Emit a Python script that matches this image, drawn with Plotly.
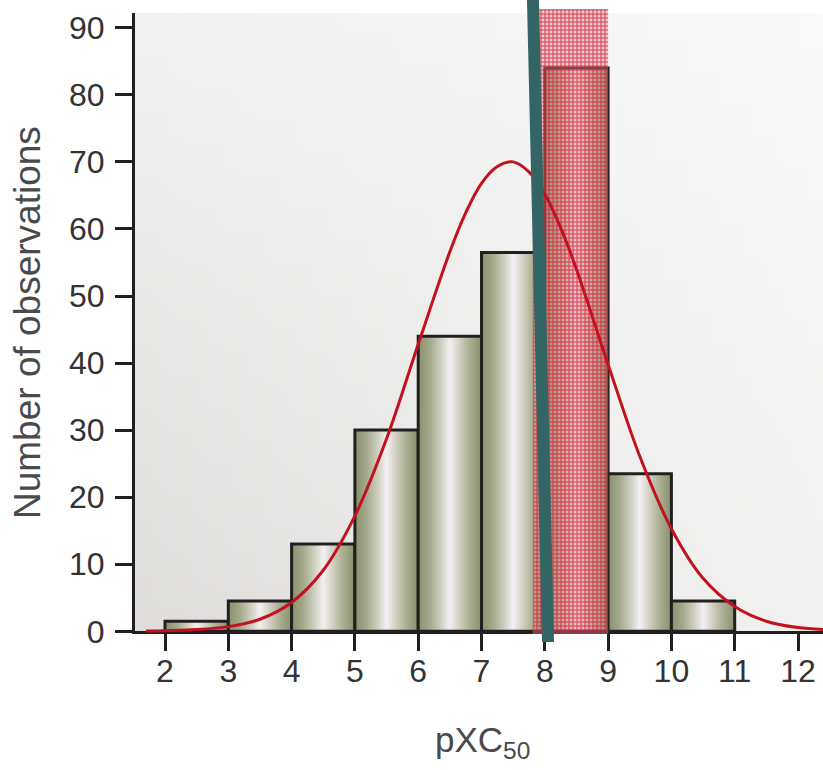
import plotly.graph_objects as go

# Histogram of pXC50 values: bin edges and counts per bin
bin_edges = [2, 3, 4, 5, 6, 7, 8, 9, 10, 11]
counts = [1.5, 4.5, 13, 30, 44, 56.5, 84, 23.5, 4.5]

# Fitted normal curve
curve_x = [1.7, 2.0, 2.5, 3.0, 3.5, 4.0, 4.5, 5.0, 5.5, 6.0, 6.5, 6.75, 7.0, 7.25, 7.5,
           7.75, 8.0, 8.25, 8.5, 9.0, 9.5, 10.0, 10.5, 11.0, 11.5, 12.0, 12.4]
curve_y = [0.05, 0.1, 0.25, 0.7, 1.8, 4.3, 9.1, 17.2, 28.7, 42.8, 56.6, 62.4, 66.8, 69.3, 70.0,
           68.5, 65.2, 60.2, 54.0, 39.8, 26.1, 15.3, 7.9, 3.7, 1.5, 0.55, 0.25]

# Threshold line and highlighted range
threshold_x = [7.806, 8.058]
threshold_y = [97.0, -4.5]
highlight_x = [7.81, 9.0]
highlight_y = [-0.4, 92.8]

x_ticks = list(range(2, 13))
y_ticks = list(range(0, 100, 10))

W, H = 823, 770
# plot frame in pixels
px_left, px_right = 135, 823
px_top, px_zero = 13, 631.3
x_range = [1.526, 12.395]
y_range = [0, 92.2]
y_scale = (px_zero - px_top) / (y_range[1] - y_range[0])
# overlay subplot spans from the very top to just below the x axis
ov_top, ov_bottom = 0, 642
y2_range = [-(ov_bottom - px_zero) / y_scale, px_zero / y_scale]

INK = '#231f20'
tick_font = dict(family='Liberation Sans Narrow, Liberation Sans, Arial, sans-serif', size=32, color='#333333')
title_font = dict(family='Liberation Sans, Arial, sans-serif', size=37, color='#4a4a4a')
sub_title_font = dict(family='Liberation Sans, Arial, sans-serif', size=35, color='#4a4a4a')

fig = go.Figure()

# panel background with soft shading
bx = [x_range[0], x_range[0], x_range[1], x_range[1], x_range[0]]
by = [y_range[0], y_range[1], y_range[1], y_range[0], y_range[0]]
fig.add_trace(go.Scatter(
    x=bx, y=by, mode='lines', fill='toself', line=dict(width=0),
    fillgradient=dict(type='vertical', start=y_range[0], stop=y_range[1],
                      colorscale=[[0, '#dedddb'], [1, '#f1f1f1']]),
    hoverinfo='skip', showlegend=False))
fig.add_trace(go.Scatter(
    x=bx, y=by, mode='lines', fill='toself', line=dict(width=0),
    fillgradient=dict(type='horizontal', start=x_range[0], stop=x_range[1],
                      colorscale=[[0, 'rgba(255,255,255,0)'], [1, 'rgba(255,255,255,0.62)']]),
    hoverinfo='skip', showlegend=False))

# histogram bars with a cylindrical shading
bar_scale = [[0, '#87916c'], [0.18, '#a3a98b'], [0.36, '#cfcfc0'], [0.5, '#f3eff3'],
             [0.62, '#d9d7cc'], [0.8, '#adb195'], [1, '#87916c']]
for a, b, h in zip(bin_edges[:-1], bin_edges[1:], counts):
    fig.add_trace(go.Scatter(
        x=[a, a, b, b, a], y=[0, h, h, 0, 0], mode='lines', fill='toself',
        fillgradient=dict(type='horizontal', start=a, stop=b, colorscale=bar_scale),
        line=dict(color=INK, width=3), hoverinfo='skip', showlegend=False))

# highlighted range (red cross-hatch)
fig.add_trace(go.Scatter(
    x=[highlight_x[0], highlight_x[0], highlight_x[1], highlight_x[1], highlight_x[0]],
    y=[highlight_y[0], highlight_y[1], highlight_y[1], highlight_y[0], highlight_y[0]],
    mode='lines', fill='toself', line=dict(width=0), fillcolor='rgba(0,0,0,0)',
    fillpattern=dict(shape='+', fgcolor='#d01c2c', bgcolor='rgba(236,130,145,0.4)',
                     size=4, solidity=0.45, fgopacity=0.8),
    xaxis='x2', yaxis='y2', hoverinfo='skip', showlegend=False))

# normal fit
fig.add_trace(go.Scatter(
    x=curve_x, y=curve_y, mode='lines', line=dict(color='#c3121f', width=3, shape='spline'),
    xaxis='x2', yaxis='y2', hoverinfo='skip', showlegend=False))

# threshold
fig.add_trace(go.Scatter(
    x=threshold_x, y=threshold_y, mode='lines', line=dict(color='#336565', width=12),
    xaxis='x2', yaxis='y2', hoverinfo='skip', showlegend=False))

x_dom = [px_left / W, px_right / W]
axis_common = dict(showline=True, linecolor=INK, linewidth=3, ticks='outside', ticklen=17,
                   tickwidth=3, tickcolor=INK, showgrid=False, zeroline=False,
                   tickfont=tick_font, automargin=False)

fig.update_layout(
    width=W, height=H, autosize=False,
    margin=dict(l=0, r=0, t=0, b=0, pad=0, autoexpand=False),
    paper_bgcolor='white', plot_bgcolor='rgba(0,0,0,0)', showlegend=False,
    xaxis=dict(domain=x_dom, range=x_range, tickvals=x_ticks, anchor='y',
               ticklabelstandoff=-8, **axis_common),
    yaxis=dict(domain=[(H - px_zero) / H, (H - px_top) / H], range=y_range,
               tickvals=y_ticks, anchor='x', ticklabelstandoff=4, **axis_common),
    xaxis2=dict(domain=x_dom, matches='x', visible=False, anchor='y2'),
    yaxis2=dict(domain=[(H - ov_bottom) / H, (H - ov_top) / H], range=y2_range,
                visible=False, anchor='x2'),
    annotations=[
        dict(text='Number of observations', textangle=-90, xref='paper', yref='paper',
             x=27 / W, y=1 - 323 / H, xanchor='center', yanchor='middle',
             showarrow=False, font=title_font),
        dict(text='pXC<sub>50</sub>', xref='paper', yref='paper',
             x=482 / W, y=1 - 742 / H, xanchor='center', yanchor='middle',
             showarrow=False, font=sub_title_font),
    ],
)

fig.write_html('out.html')
